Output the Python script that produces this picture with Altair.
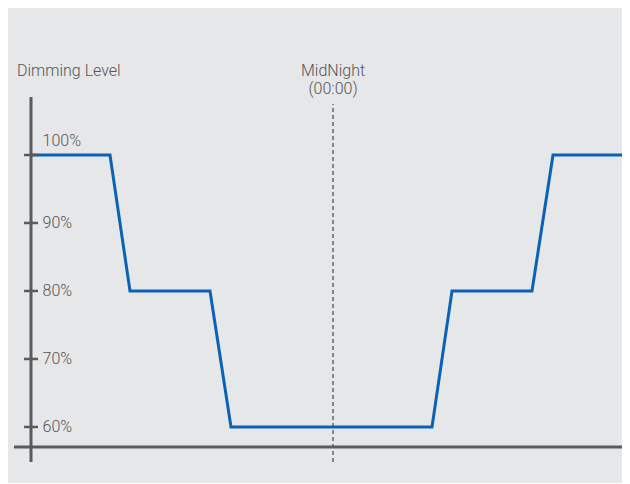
import altair as alt
import pandas as pd

# Dimming profile (hours relative to midnight, dimming level %)
time_h = [-6.04, -4.46, -4.06, -2.46, -2.04, 1.98, 2.38, 3.98, 4.4, 5.94]
level = [100, 100, 80, 80, 60, 60, 80, 80, 100, 100]

# Y-axis ticks and labels
tick_values = [100, 90, 80, 70, 60]
tick_labels = ["100%", "90%", "80%", "70%", "60%"]
label_pos = [102.06, 90, 80, 70, 60]

# Axis geometry in data units
y_axis_x = -6.04
y_axis_range = [54.85, 108.53]
x_axis_y = 57.06
x_axis_range = [-6.38, 5.94]
midnight_range = [54.85, 107.5]

X_DOMAIN = [-6.5, 5.78]
Y_DOMAIN = [51.76, 121.62]

FONT = "Roboto"
FS = 16
TEXT_COLOR = "#555555"
AXIS_COLOR = "#5b5b5b"
LINE_COLOR = "#0a62b4"

xs = alt.Scale(domain=X_DOMAIN, nice=False, zero=False)
ys = alt.Scale(domain=Y_DOMAIN, nice=False, zero=False)

profile = pd.DataFrame({"t": time_h, "lvl": level})
ticks = pd.DataFrame({"x": [y_axis_x] * len(tick_values), "v": tick_values})
labels = pd.DataFrame({"x": [-5.81] * len(tick_values), "v": label_pos, "txt": tick_labels})
yaxis = pd.DataFrame({"x": [y_axis_x], "y1": [y_axis_range[0]], "y2": [y_axis_range[1]]})
xaxis = pd.DataFrame({"x1": [x_axis_range[0]], "x2": [x_axis_range[1]], "y": [x_axis_y]})
mid = pd.DataFrame({"x": [0.0], "y1": [midnight_range[0]], "y2": [midnight_range[1]]})
ytitle = pd.DataFrame({"x": [-6.32], "y": [111.62], "txt": ["Dimming Level"]})
midtitle = pd.DataFrame({"x": [0.0, 0.0], "y": [111.62, 108.97], "txt": ["MidNight", "(00:00)"]})

X = lambda f: alt.X(f, type="quantitative", scale=xs, axis=None)
Y = lambda f: alt.Y(f, type="quantitative", scale=ys, axis=None)

dash = alt.Chart(mid).mark_rule(color="#666666", strokeWidth=1.5, strokeDash=[4, 3]).encode(
    x=X("x"), y=Y("y1"), y2="y2")

line = alt.Chart(profile).mark_line(color=LINE_COLOR, strokeWidth=3, strokeJoin="miter").encode(
    x=X("t"), y=Y("lvl"), order="t:Q")

yax = alt.Chart(yaxis).mark_rule(color=AXIS_COLOR, strokeWidth=3).encode(
    x=X("x"), y=Y("y1"), y2="y2")
xax = alt.Chart(xaxis).mark_rule(color=AXIS_COLOR, strokeWidth=3).encode(
    x=X("x1"), x2="x2", y=Y("y"))

tk = alt.Chart(ticks).mark_rule(color=AXIS_COLOR, strokeWidth=2.5, xOffset=-7, x2Offset=7).encode(
    x=X("x"), x2="x", y=Y("v"))

lab = alt.Chart(labels).mark_text(font=FONT, fontSize=FS, fontWeight=300, color=TEXT_COLOR,
                                  align="left", baseline="middle").encode(
    x=X("x"), y=Y("v"), text="txt:N")

t1 = alt.Chart(ytitle).mark_text(font=FONT, fontSize=FS, fontWeight=300, color=TEXT_COLOR,
                                 align="left", baseline="alphabetic").encode(
    x=X("x"), y=Y("y"), text="txt:N")
t2 = alt.Chart(midtitle).mark_text(font=FONT, fontSize=FS, fontWeight=300, color=TEXT_COLOR,
                                   align="center", baseline="alphabetic").encode(
    x=X("x"), y=Y("y"), text="txt:N")

chart = alt.layer(dash, line, yax, xax, tk, lab, t1, t2).properties(
    width=614, height=475, padding=0, autosize=alt.AutoSizeParams(type="none"),
    background="#e6e7e9",
).configure_view(stroke=None)

chart.save("out.html", embed_options={"renderer": "svg", "actions": False})
